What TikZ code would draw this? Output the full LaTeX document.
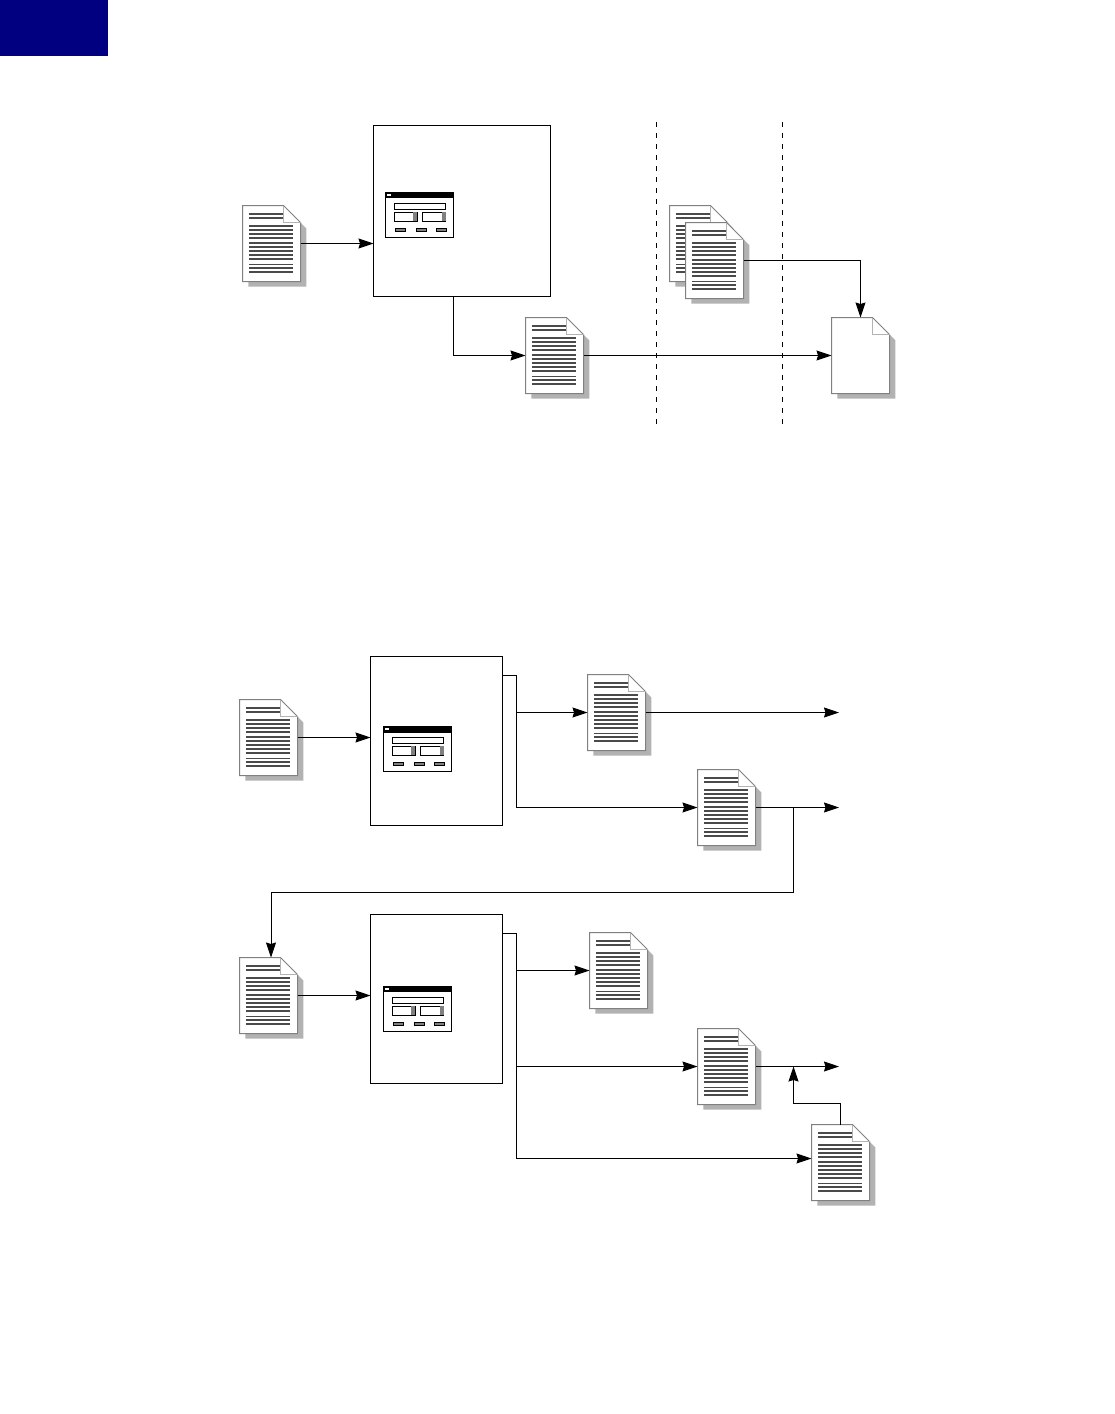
\documentclass[tikz,border=0pt]{standalone}
\usetikzlibrary{arrows.meta}

\definecolor{tabblue}{HTML}{000080}
\definecolor{edgegray}{HTML}{808080}
\definecolor{rulegray}{HTML}{4A4A4A}
\definecolor{shadegray}{HTML}{B2B2B2}

\tikzset{
    docbox/.style={minimum width=58pt, minimum height=76pt, inner sep=0pt, outer sep=0pt},
    toolbox/.style={draw, line width=1pt, inner sep=0pt, outer sep=0pt},
    flow/.style={line width=1pt},
    btn/.style={draw, line width=0.8pt, fill=edgegray},
    divider/.style={dash pattern=on 5pt off 6pt, dash phase=5.7pt, line width=1pt},
}

% blank page: name, left, top
\newcommand{\blankpage}[3]{
    \begin{scope}[shift={(#2,#3)}]
        \fill[shadegray] (58,17) -- (64.3,23.3) -- (64.3,81.7) -- (6.3,81.7) -- (6.3,70) -- cycle;
        \filldraw[fill=white, draw=edgegray, line width=1pt]
            (0.5,0.5) -- (41.5,0.5) -- (58.5,17.5) -- (58.5,76.5) -- (0.5,76.5) -- cycle;
        \draw[edgegray!60, line width=0.8pt] (41.5,0.5) -- (41.5,17.5) -- (58.5,17.5);
        \node[docbox] (#1) at (29.5,38.5) {};
    \end{scope}
}

% page with text rows
\newcommand{\docpage}[3]{
    \blankpage{#1}{#2}{#3}
    \begin{scope}[shift={(#2,#3)}, rulegray, line width=2pt]
        \foreach \r in {9,13}
            \draw (7,\r) -- (41,\r);
        \foreach \r in {21,25,29,33,38,42,46,50,54,63,67}
            \draw (7,\r) -- (51,\r);
        \draw[line width=0.6pt] (7,59) -- (51,59);
    \end{scope}
}

% dialog icon: left, top, title bar height
\newcommand{\dialogicon}[3]{
    \begin{scope}[shift={(#1,#2)}]
        \draw[fill=white, line width=1pt] (0,0) rectangle (68,45);
        \fill (0,0) rectangle (68,#3);
        \fill[white] (1.5,1.7) rectangle (5.5,3.7);
        \draw[line width=0.9pt] (8.5,11) rectangle (60,16.5);
        \foreach \bx in {8.5,37}{
            \draw[line width=0.9pt] (\bx,19.5) rectangle +(23,9.5);
            \fill[edgegray] (\bx+19,19.5) rectangle +(4,9);
        }
        \foreach \bx in {10,30.5,51}
            \draw[btn] (\bx,35.5) rectangle +(10,3.8);
    \end{scope}
}

\begin{document}
\begin{tikzpicture}[x=1pt, y=-1pt, >={Stealth[length=15pt, width=10pt, inset=1.5pt]}]
    \useasboundingbox (0,0) rectangle (1115,1414);

    \fill[tabblue] (0,0) rectangle (108,55.5);

    % upper diagram
    \draw[divider] (656.5,117) -- (656.5,424.5);
    \draw[divider] (782.5,117) -- (782.5,424.5);

    \node[toolbox, minimum width=177pt, minimum height=171pt] (mainbox) at (462,211) {};
    \dialogicon{385.5}{192.5}{5}

    \docpage{srcdoc}{242}{205}
    \docpage{outdoc}{525}{317}
    \docpage{backdoc}{669}{205}
    \docpage{frontdoc}{685}{222}
    \blankpage{finaldoc}{831}{317}

    \draw[flow, ->] (srcdoc.east) -- (srcdoc.east -| mainbox.west);
    \draw[flow, ->] ([xshift=-8.5pt]mainbox.south) |- (outdoc.west);
    \draw[flow, ->] (outdoc.east) -- (finaldoc.west);
    \draw[flow, ->] (frontdoc.east) -| (finaldoc.north);

    % lower diagram, first step
    \node[toolbox, minimum width=132pt, minimum height=169pt] (firstbox) at (436.5,741) {};
    \dialogicon{383.5}{726.5}{6}

    \docpage{firstsrc}{239}{699}
    \docpage{firstout}{587}{674}
    \docpage{firstlog}{697}{769}

    \coordinate (firsttap) at (516.5,675.5);
    \coordinate (firstend) at (839,712);
    \coordinate (turn) at (793.5,892.5);

    \draw[flow, ->] (firstsrc.east) -- (firstsrc.east -| firstbox.west);
    \draw[flow] (firsttap -| firstbox.east) -- (firsttap) -- (firsttap |- firstlog.west);
    \draw[flow, ->] (firsttap |- firstout.west) -- (firstout.west);
    \draw[flow, ->] (firsttap |- firstlog.west) -- (firstlog.west);
    \draw[flow, ->] (firstout.east) -- (firstout.east -| firstend);
    \draw[flow, ->] (firstlog.east) -- (firstlog.east -| firstend);

    % lower diagram, second step
    \node[toolbox, minimum width=132pt, minimum height=169pt] (secondbox) at (436.5,999) {};
    \dialogicon{383.5}{986.5}{5}

    \docpage{secondsrc}{239}{957}
    \docpage{secondout}{589}{932}
    \docpage{secondlog}{697}{1028}
    \docpage{extradoc}{811}{1124}

    \coordinate (secondtap) at (516.5,933.5);
    \coordinate (secondend) at (839,1066);
    \coordinate (extraentry) at (811.5,1158.5);
    \coordinate (join) at (793.5,1103.5);

    \draw[flow, ->] (firstlog.east -| turn) -- (turn) -| ([xshift=2.5pt]secondsrc.north);
    \draw[flow, ->] (secondsrc.east) -- (secondsrc.east -| secondbox.west);
    \draw[flow] (secondtap -| secondbox.east) -- (secondtap) -- (secondtap |- extraentry);
    \draw[flow, ->] (secondtap |- secondout.west) -- (secondout.west);
    \draw[flow, ->] (secondtap |- secondlog.west) -- (secondlog.west);
    \draw[flow, ->] (secondtap |- extraentry) -- (extraentry);
    \draw[flow, ->] (secondlog.east) -- (secondlog.east -| secondend);
    \draw[flow, ->] (extradoc.north) |- (join) -- (join |- secondlog.east);
\end{tikzpicture}
\end{document}
